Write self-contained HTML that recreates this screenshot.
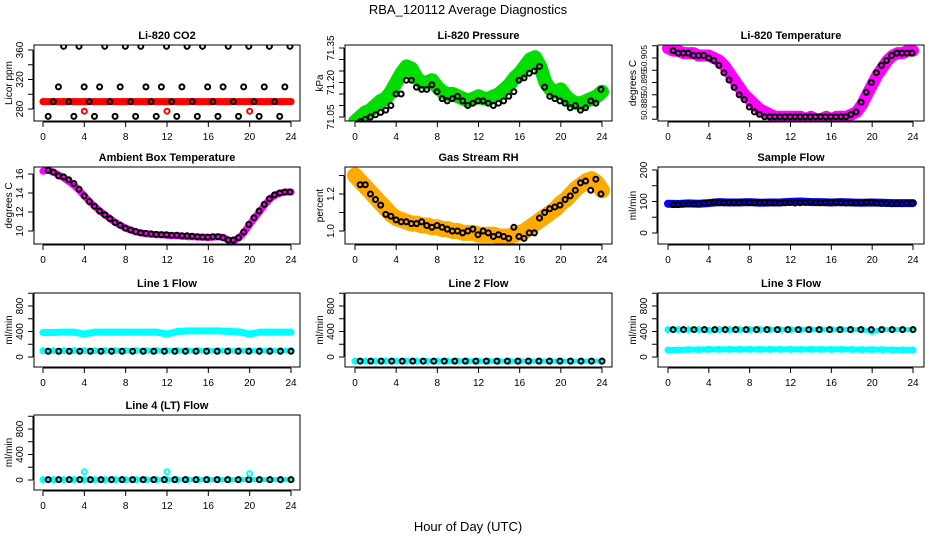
<!DOCTYPE html>
<html><head><meta charset="utf-8"><style>
html,body{margin:0;padding:0;background:#fff;}
svg{display:block;font-family:"Liberation Sans",sans-serif;}
</style></head><body>
<svg id="chart" width="936" height="540" viewBox="0 0 936 540" xmlns="http://www.w3.org/2000/svg">
<rect width="936" height="540" fill="#fff"/>
<text x="468" y="14" font-size="13" text-anchor="middle">RBA_120112  Average Diagnostics</text>
<text x="468" y="531" font-size="13" text-anchor="middle">Hour of Day (UTC)</text>
</svg>
<script>
const xTicks = [0,4,8,12,16,20,24];
// CO2
const co2Black = [270,290,310,365,290,270,365,310,290,270,310,365,290,270,310,365,290,270,365,310,290,270,310,365,290,270,310,365,290,270,365,310,290,270,310,365,290,270,310,365,290,270,310,365,290,270,310,365];
const co2Red = [290,290,290,290,290,290,290,290,290,290,290,290,290,290,290,290,290,290,290,290,290,290,290,290,290];
const co2RedOut = [[4,277],[12,277],[20,277]];
// Pressure
const presGreen = [71.03,71.05,71.07,71.08,71.10,71.12,71.13,71.16,71.20,71.24,71.27,71.26,71.22,71.20,71.20,71.21,71.18,71.16,71.15,71.15,71.14,71.13,71.12,71.13,71.14,71.13,71.13,71.14,71.15,71.17,71.19,71.22,71.24,71.27,71.30,71.31,71.27,71.20,71.17,71.16,71.17,71.14,71.12,71.11,71.11,71.12,71.13,71.14,71.16];
const presBlack = [71.03,71.04,71.05,71.06,71.07,71.08,71.10,71.15,71.15,71.21,71.21,71.18,71.17,71.17,71.19,71.16,71.13,71.12,71.13,71.14,71.12,71.10,71.11,71.12,71.12,71.11,71.10,71.11,71.12,71.14,71.16,71.21,71.22,71.24,71.25,71.27,71.18,71.14,71.13,71.12,71.11,71.09,71.10,71.08,71.09,71.12,71.11,71.17];
// Li-820 temperature
const tempMag = [50.909,50.908,50.908,50.907,50.907,50.907,50.906,50.906,50.906,50.905,50.904,50.902,50.899,50.896,50.893,50.890,50.888,50.886,50.884,50.883,50.882,50.881,50.881,50.881,50.881,50.881,50.881,50.880,50.881,50.880,50.880,50.881,50.880,50.881,50.881,50.881,50.882,50.883,50.886,50.890,50.894,50.898,50.901,50.904,50.906,50.907,50.907,50.908,50.908];
const tempBlack = [50.908,50.907,50.907,50.907,50.906,50.906,50.906,50.905,50.904,50.902,50.899,50.896,50.893,50.890,50.888,50.885,50.883,50.882,50.881,50.881,50.881,50.881,50.881,50.881,50.881,50.881,50.881,50.881,50.881,50.881,50.881,50.881,50.881,50.881,50.881,50.882,50.883,50.887,50.891,50.895,50.899,50.902,50.904,50.906,50.907,50.907,50.907,50.907];
// Ambient
const ambMag = [16.3,16.4,16.2,15.9,15.6,15.2,14.8,14.3,13.7,13.1,12.6,12.1,11.7,11.3,10.9,10.6,10.3,10.1,9.9,9.8,9.7,9.65,9.6,9.6,9.55,9.5,9.5,9.45,9.4,9.4,9.35,9.35,9.3,9.35,9.4,9.3,9.0,9.0,9.3,9.9,10.7,11.4,12.1,12.8,13.4,13.8,14.0,14.1,14.1];
const ambBlack = [16.4,16.2,15.8,15.7,15.4,15.0,14.4,13.7,13.1,12.6,12.1,11.7,11.3,10.9,10.6,10.3,10.1,9.95,9.8,9.75,9.7,9.65,9.6,9.6,9.55,9.55,9.5,9.5,9.45,9.4,9.35,9.35,9.4,9.4,9.3,9.05,9.05,9.3,9.9,10.7,11.4,12.1,12.8,13.4,13.8,14.0,14.1,14.1];
// RH
const rhOrange = [1.30,1.27,1.24,1.21,1.18,1.15,1.12,1.09,1.07,1.06,1.05,1.04,1.04,1.03,1.03,1.02,1.02,1.01,1.01,1.00,1.00,0.99,0.99,0.99,0.98,0.98,0.98,0.98,0.97,0.97,0.97,0.98,0.99,1.00,1.02,1.04,1.06,1.08,1.10,1.12,1.15,1.17,1.20,1.23,1.25,1.27,1.28,1.26,1.22];
const rhBlack = [1.25,1.25,1.20,1.17,1.14,1.09,1.08,1.06,1.05,1.05,1.04,1.04,1.05,1.03,1.02,1.03,1.02,1.01,1.00,1.00,0.99,1.00,1.01,0.98,1.00,0.99,0.97,0.98,0.97,0.96,1.02,0.97,0.96,0.99,0.99,1.07,1.10,1.12,1.13,1.14,1.17,1.19,1.22,1.26,1.27,1.22,1.28,1.20];
// Sample flow
const sampBlue = [93,92,94,93,95,98,97,97,98,96,97,97,99,100,98,98,97,98,97,96,97,96,95,95,95];
const sampBlack = [90,90,92,93,92,93,95,96,98,96,96,97,97,97,98,96,96,97,97,96,96,95,96,97,95,96,97,99,97,96,97,97,98,96,95,96,95,96,97,98,95,94,94,93,94,93,94,95];
// Line flows
const l1CyanHigh = [385,385,390,390,360,390,390,390,390,390,390,390,360,400,410,410,410,410,400,395,360,390,390,390,390];
const l1CyanLow = [100,100,100,100,100,100,100,100,100,100,100,100,100,100,100,100,100,100,100,100,100,100,100,100,100];
const l1Black = [90,90,90,90,90,90,90,90,90,90,90,90,90,90,90,90,90,90,90,90,90,90,90,90];
const l2Cyan = [-65,-65,-65,-65,-65,-65,-65,-65,-65,-65,-65,-65,-65,-65,-65,-65,-65,-65,-65,-65,-65,-65,-65,-65,-65];
const l2Black = [-65,-65,-65,-65,-65,-65,-65,-65,-65,-65,-65,-65,-65,-65,-65,-65,-65,-65,-65,-65,-65,-65,-65,-65];
const l3CyanHigh = [430,430,430,430,420,430,430,430,430,430,430,430,430,430,430,430,430,430,430,430,400,430,430,430,430];
const l3CyanLow = [110,110,115,115,120,120,120,120,120,120,120,120,120,120,120,120,120,120,118,115,115,115,112,112,112];
const l3Black = [430,430,430,430,430,430,430,430,430,430,430,430,430,430,430,430,430,430,430,430,430,430,430,430];
const l4Cyan = [5,5,5,5,5,5,5,5,5,5,5,5,5,5,5,5,5,5,5,5,5,5,5,5,5];
const l4CyanOut = [[4,130],[12,130],[20,100]];
const l4Black = [5,5,5,5,5,5,5,5,5,5,5,5,5,5,5,5,5,5,5,5,5,5,5,5];

const NS = "http://www.w3.org/2000/svg";
const svg = document.getElementById('chart');
function mk(tag, attrs, parent){ const e=document.createElementNS(NS,tag); for(const k in attrs) e.setAttribute(k,attrs[k]); (parent||svg).appendChild(e); return e; }

function panel(c){
  const g = mk('g',{});
  
  
  const xs = h => c.xa + (h/24)*(c.xb-c.xa);
  const ys = v => c.p0 + (v-c.v0)/(c.v1-c.v0)*(c.p1-c.p0);
  const t = mk('text',{x:(c.bx0+c.bx1)/2,y:c.by0-6,'font-size':11,'font-weight':'bold','text-anchor':'middle'},g);
  t.textContent = c.title;
  
  
  const clip = 'clip-'+c.name;
  const cp = mk('clipPath',{id:clip},g); mk('rect',{x:c.bx0,y:c.by0,width:c.bx1-c.bx0,height:c.by1-c.by0},cp);
  const sg = mk('g',{'clip-path':'url(#'+clip+')'},g);
  c.series.forEach(s=>{
    const n = s.vals.length;
    const hx = i => s.start + i*(s.end-s.start)/(n-1);
    if(s.band){
      const pts = s.vals.map((v,i)=>xs(hx(i))+','+ys(v)).join(' ');
      const pl = mk('polyline',{points:pts,fill:'none',stroke:s.color,'stroke-width':s.band,'stroke-linejoin':'round','stroke-linecap':'round'},sg);
      
      
    }
    s.vals.forEach((v,i)=>{
      const ci = mk('circle',{cx:xs(hx(i)),cy:ys(v),r:2.5,fill:'none',stroke:s.color,'stroke-width':2},sg);
      
      
    });
  });
  (c.extra||[]).forEach(e=>{
    e.pts.forEach(p=>{
      const ci = mk('circle',{cx:xs(p[0]),cy:ys(p[1]),r:2.5,fill:'none',stroke:e.color,'stroke-width':2},sg);
      
      
    });
  });
  const bx = mk('rect',{x:c.bx0,y:c.by0,width:c.bx1-c.bx0,height:c.by1-c.by0,fill:'none',stroke:'#000','stroke-width':1},g);
  
  
  mk('line',{x1:xs(0),x2:xs(24),y1:c.by1+1,y2:c.by1+1,stroke:'#000'},g);
  xTicks.forEach(h=>{
    mk('line',{x1:xs(h),x2:xs(h),y1:c.by1+1,y2:c.by1+6,stroke:'#000'},g);
    const tl = mk('text',{x:xs(h),y:c.by1+19,'font-size':10,'text-anchor':'middle'},g);
    tl.textContent = h;
    
    
  });
  mk('line',{x1:c.bx0-1,x2:c.bx0-1,y1:ys(c.ticks[0]),y2:ys(c.ticks[c.ticks.length-1]),stroke:'#000'},g);
  c.ticks.forEach(v=>{
    mk('line',{x1:c.bx0-6,x2:c.bx0-1,y1:ys(v),y2:ys(v),stroke:'#000'},g);
  });
  c.labels.forEach(v=>{
    const yy = ys(v), xx = c.bx0-11;
    const tl = mk('text',{x:xx,y:yy,'font-size':c.lfs||10,'text-anchor':'middle',transform:'rotate(-90 '+xx+' '+yy+')'},g);
    tl.textContent = c.fmt ? c.fmt(v) : v;
    
    
  });
  const yl = mk('text',{x:c.bx0-22,y:(c.by0+c.by1)/2,'font-size':10,'text-anchor':'middle',transform:'rotate(-90 '+(c.bx0-22)+' '+((c.by0+c.by1)/2)+')'},g);
  yl.textContent = c.ylab;
  
  
}

const C1={bx0:34,bx1:300,xa:43,xb:291}, C2={bx0:345,bx1:612,xa:355,xb:602}, C3={bx0:658,bx1:924,xa:668,xb:913};
const R1={by0:45,by1:121}, R2={by0:167,by1:244}, R3={by0:293,by1:367}, R4={by0:415,by1:490};
const S=(vals,color,name,start,end,band)=>({vals,color,name,start,end,band});

panel(Object.assign({name:'panel-co2',title:'Li-820 CO2',ylab:'Licor ppm',v0:280,p0:109,v1:360,p1:50,ticks:[280,300,320,340,360],labels:[280,320,360],
  series:[S(co2Red,'#ff0000','co2-red',0,24,7),S(co2Black,'#000','co2-black',0.5,23.9,0)],extra:[{pts:co2RedOut,color:'#ff0000',name:'co2-outlier'}]},C1,R1));
panel(Object.assign({name:'panel-pressure',title:'Li-820 Pressure',ylab:'kPa',v0:71.05,p0:117,v1:71.35,p1:48,ticks:[71.05,71.10,71.15,71.20,71.25,71.30,71.35],labels:[71.05,71.20,71.35],fmt:v=>v.toFixed(2),
  series:[S(presGreen,'#00dd00','pressure-green',0,24,14),S(presBlack,'#000','pressure-black',0.5,23.9,0)]},C2,R1));
panel(Object.assign({name:'panel-li820-temp',title:'Li-820 Temperature',ylab:'degrees C',v0:50.885,p0:107,v1:50.905,p1:58,ticks:[50.88,50.885,50.89,50.895,50.90,50.905,50.91],labels:[50.885,50.895,50.905],lfs:8.5,fmt:v=>v.toFixed(3),
  series:[S(tempMag,'#ff00ff','temp-magenta',0,24,12),S(tempBlack,'#000','temp-black',0.5,23.9,0)]},C3,R1));
panel(Object.assign({name:'panel-ambient',title:'Ambient Box Temperature',ylab:'degrees C',v0:10,p0:231,v1:16,p1:174,ticks:[10,12,14,16],labels:[10,12,14,16],
  series:[S(ambMag,'#ff00ff','ambient-magenta',0,24,7),S(ambBlack,'#000','ambient-black',0.5,23.9,0)]},C1,R2));
panel(Object.assign({name:'panel-rh',title:'Gas Stream RH',ylab:'percent',v0:1.0,p0:231,v1:1.2,p1:194,ticks:[1.0,1.1,1.2,1.3],labels:[1.0,1.2],fmt:v=>v.toFixed(1),
  series:[S(rhOrange,'#ffaa00','rh-orange',0,24,16),S(rhBlack,'#000','rh-black',0.5,23.9,0)]},C2,R2));
panel(Object.assign({name:'panel-sample-flow',title:'Sample Flow',ylab:'ml/min',v0:0,p0:233,v1:200,p1:170,ticks:[0,50,100,150,200],labels:[0,100,200],
  series:[S(sampBlue,'#0000ff','sample-blue',0,24,8),S(sampBlack,'#000','sample-black',0.5,23.9,0)]},C3,R2));
panel(Object.assign({name:'panel-line1',title:'Line 1 Flow',ylab:'ml/min',v0:0,p0:357,v1:800,p1:306,ticks:[0,200,400,600,800,1000],labels:[0,400,800],
  series:[S(l1CyanHigh,'#00ffff','line1-cyan-high',0,24,7),S(l1CyanLow,'#00ffff','line1-cyan-low',0,24,5),S(l1Black,'#000','line1-black',0.5,24,0)]},C1,R3));
panel(Object.assign({name:'panel-line2',title:'Line 2 Flow',ylab:'ml/min',v0:0,p0:357,v1:800,p1:306,ticks:[0,200,400,600,800,1000],labels:[0,400,800],
  series:[S(l2Cyan,'#00ffff','line2-cyan',0,24,5),S(l2Black,'#000','line2-black',0.5,24,0)]},C2,R3));
panel(Object.assign({name:'panel-line3',title:'Line 3 Flow',ylab:'ml/min',v0:0,p0:357,v1:800,p1:306,ticks:[0,200,400,600,800,1000],labels:[0,400,800],
  series:[S(l3CyanHigh,'#00ffff','line3-cyan-high',0,24,5),S(l3CyanLow,'#00ffff','line3-cyan-low',0,24,6),S(l3Black,'#000','line3-black',0.5,24,0)]},C3,R3));
panel(Object.assign({name:'panel-line4',title:'Line 4 (LT) Flow',ylab:'ml/min',v0:0,p0:480,v1:800,p1:429,ticks:[0,200,400,600,800,1000],labels:[0,400,800],
  series:[S(l4Cyan,'#00ffff','line4-cyan',0,24,5),S(l4Black,'#000','line4-black',0.5,24,0)],extra:[{pts:l4CyanOut,color:'#00ffff',name:'line4-outlier'}]},C1,R4));
</script>
</body></html>
